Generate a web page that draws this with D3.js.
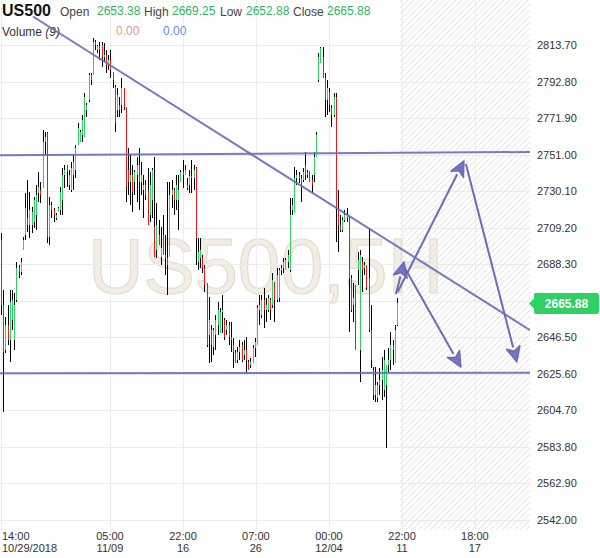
<!DOCTYPE html>
<html><head><meta charset="utf-8">
<script src="https://cdn.jsdelivr.net/npm/d3@7/dist/d3.min.js"></script>
<style>
html,body{margin:0;padding:0;background:#fff;}
svg{display:block;font-family:"Liberation Sans",Arial,sans-serif;}
</style></head><body>
<svg id="c" width="600" height="558"></svg>
<script>
const opens = [2702.1,2664.9,2639.2,2653.5,2644.9,2656.4,2644.9,2667.8,2686.1,2683.8,2696.4,2705.0,2714.7,2710.7,2710.7,2712.4,2716.4,2729.0,2730.7,2731.9,2758.2,2763.3,2703.8,2722.1,2719.3,2714.7,2718.1,2719.3,2725.0,2739.3,2745.0,2733.6,2730.7,2739.3,2742.2,2756.5,2758.2,2762.2,2761.0,2776.5,2782.2,2796.5,2796.5,2815.4,2810.8,2813.1,2813.7,2806.8,2807.9,2802.2,2805.1,2798.2,2789.6,2776.5,2779.3,2779.3,2789.1,2778.2,2742.2,2735.3,2739.3,2735.3,2739.3,2745.0,2735.3,2730.7,2733.6,2730.7,2716.4,2725.0,2709.6,2696.4,2705.0,2692.4,2705.0,2693.5,2691.8,2692.4,2727.9,2730.7,2725.0,2725.0,2735.3,2741.0,2739.3,2733.6,2733.6,2738.7,2737.6,2743.3,2689.5,2691.8,2691.8,2686.1,2677.5,2647.8,2650.6,2640.9,2647.8,2653.5,2648.9,2660.9,2656.4,2650.6,2653.5,2646.6,2642.1,2637.5,2633.5,2638.1,2642.1,2636.3,2639.2,2632.3,2630.6,2631.8,2640.3,2642.1,2662.1,2659.2,2667.8,2662.1,2662.1,2667.8,2664.9,2678.1,2667.8,2668.9,2685.0,2686.1,2685.0,2689.5,2685.0,2719.3,2717.6,2737.6,2739.3,2737.6,2736.4,2745.0,2741.0,2741.6,2736.4,2739.3,2749.6,2793.6,2803.4,2806.8,2794.8,2782.2,2786.8,2777.6,2773.6,2783.9,2719.3,2710.7,2707.8,2713.6,2716.4,2714.7,2680.4,2664.9,2676.4,2685.0,2639.2,2689.5,2686.1,2687.8,2680.4,2650.6,2627.8,2613.5,2611.7,2619.2,2622.0,2616.4,2619.2,2630.6,2633.5,2642.1,2631.8,2653.38];
const highs = [2706.1,2673.5,2658.1,2664.9,2673.5,2673.5,2671.8,2689.5,2687.8,2691.8,2703.8,2729.0,2736.4,2729.6,2721.0,2726.7,2733.6,2741.0,2735.3,2765.0,2763.9,2763.9,2726.7,2723.9,2720.4,2717.6,2721.0,2732.4,2743.3,2745.0,2745.0,2742.2,2746.7,2750.7,2756.5,2769.0,2765.0,2773.6,2786.2,2780.5,2797.6,2797.6,2817.7,2816.5,2813.7,2815.4,2815.4,2814.8,2810.8,2807.9,2810.8,2798.2,2790.8,2789.1,2783.9,2794.8,2789.1,2778.2,2754.7,2750.7,2745.0,2742.2,2749.6,2754.7,2746.7,2739.3,2736.4,2743.3,2741.0,2743.3,2749.6,2723.3,2713.6,2709.6,2716.4,2705.0,2735.3,2735.3,2736.4,2731.9,2739.3,2739.3,2742.2,2747.9,2745.0,2737.6,2742.2,2747.9,2745.0,2743.9,2703.3,2703.3,2693.5,2687.8,2677.5,2669.5,2653.5,2651.8,2659.2,2666.7,2663.2,2670.7,2657.5,2656.4,2655.2,2655.2,2646.1,2639.2,2640.9,2644.9,2643.8,2644.9,2646.6,2633.5,2634.6,2642.1,2646.1,2664.9,2670.7,2670.7,2674.7,2668.9,2670.7,2668.9,2683.2,2678.1,2686.1,2686.1,2687.8,2691.8,2691.8,2696.4,2726.1,2726.1,2743.9,2742.2,2741.0,2739.3,2743.3,2752.5,2742.2,2741.6,2739.3,2752.5,2763.9,2809.1,2812.5,2812.5,2797.6,2793.6,2789.1,2779.3,2786.2,2786.2,2730.7,2716.4,2715.3,2719.3,2720.4,2715.3,2682.1,2677.5,2676.4,2695.3,2696.4,2692.4,2689.5,2687.8,2709.0,2664.9,2629.5,2629.5,2620.9,2628.9,2635.2,2639.2,2630.6,2640.3,2649.5,2644.9,2653.5,2669.25];
const lows = [2659.2,2603.7,2637.5,2642.1,2632.3,2650.6,2639.2,2666.7,2680.4,2682.1,2696.4,2702.1,2706.7,2703.3,2706.1,2709.0,2707.8,2723.9,2723.3,2731.9,2750.7,2700.4,2699.3,2714.7,2712.4,2713.6,2718.1,2716.4,2716.4,2731.9,2732.4,2730.7,2729.6,2730.7,2737.6,2756.5,2758.2,2758.2,2761.0,2772.5,2781.1,2790.8,2796.5,2810.8,2809.1,2805.1,2801.1,2803.9,2797.6,2799.4,2794.8,2789.1,2763.9,2772.5,2772.5,2774.8,2776.5,2723.9,2727.9,2722.1,2718.1,2727.9,2723.9,2719.3,2727.9,2714.7,2725.0,2710.7,2712.4,2714.7,2692.4,2691.8,2699.3,2687.8,2693.5,2682.1,2670.7,2692.4,2720.4,2716.4,2719.3,2707.8,2735.3,2731.9,2739.3,2730.7,2729.0,2729.0,2730.7,2687.8,2685.0,2686.1,2683.2,2672.4,2640.9,2631.8,2632.3,2636.3,2639.2,2647.8,2648.9,2648.9,2644.9,2647.8,2642.1,2638.1,2628.9,2631.8,2631.8,2633.5,2632.3,2633.5,2626.0,2627.8,2628.9,2631.8,2635.2,2642.1,2653.5,2657.5,2651.8,2655.2,2660.9,2656.4,2663.2,2655.2,2666.7,2666.7,2682.1,2683.2,2685.0,2686.1,2683.8,2716.4,2717.6,2733.6,2734.7,2723.9,2735.3,2736.4,2737.6,2735.3,2729.0,2735.3,2749.6,2792.5,2803.4,2794.8,2772.5,2773.6,2775.3,2766.8,2772.5,2701.0,2695.3,2706.7,2706.7,2712.4,2712.4,2649.5,2660.9,2655.2,2639.2,2676.4,2620.9,2672.4,2682.1,2673.5,2649.5,2628.9,2610.6,2609.5,2609.5,2613.5,2610.6,2612.3,2583.1,2626.6,2627.8,2630.6,2631.8,2652.88];
const closes = [2664.9,2638.1,2653.5,2644.9,2666.7,2667.8,2664.9,2686.1,2683.8,2689.5,2702.1,2720.4,2710.7,2719.3,2718.1,2725.0,2727.9,2732.4,2727.9,2758.2,2761.0,2703.8,2722.1,2719.3,2716.4,2716.4,2720.4,2729.6,2739.3,2742.2,2741.0,2739.3,2743.3,2746.7,2754.7,2766.2,2763.9,2770.8,2783.9,2779.3,2796.5,2793.6,2815.4,2813.7,2813.1,2810.8,2806.8,2807.9,2802.2,2805.1,2799.4,2793.6,2769.0,2785.1,2776.5,2789.1,2778.2,2732.4,2735.3,2739.3,2729.6,2741.0,2745.0,2735.3,2739.3,2733.6,2727.9,2710.7,2733.6,2742.2,2692.4,2710.7,2699.3,2697.5,2693.5,2691.8,2687.8,2727.9,2730.7,2725.0,2733.6,2730.7,2741.0,2739.3,2742.2,2731.9,2738.7,2737.6,2742.2,2703.3,2695.3,2696.4,2686.1,2676.4,2642.1,2656.4,2642.1,2650.6,2656.4,2662.1,2660.9,2662.1,2646.6,2653.5,2646.6,2644.9,2638.1,2631.8,2638.1,2640.9,2633.5,2639.2,2633.5,2627.8,2632.3,2640.3,2643.8,2663.2,2664.9,2667.8,2662.1,2664.9,2668.9,2662.1,2679.2,2667.8,2682.1,2685.0,2686.1,2689.5,2690.7,2693.5,2716.4,2722.1,2737.6,2739.3,2737.6,2733.6,2741.0,2739.3,2739.3,2735.3,2733.6,2749.6,2762.2,2806.8,2811.9,2794.8,2782.2,2789.1,2779.3,2773.6,2783.9,2720.4,2710.7,2707.8,2713.6,2716.4,2714.7,2680.4,2662.1,2668.9,2639.2,2690.7,2693.5,2685.0,2687.8,2674.7,2650.6,2633.5,2613.5,2619.2,2619.2,2622.0,2627.8,2633.5,2630.6,2633.5,2642.1,2639.2,2650.6,2665.88];

const yTicks = [2813.70,2792.80,2771.90,2751.00,2730.10,2709.20,2688.30,2667.40,2646.50,2625.60,2604.70,2583.80,2562.90,2542.00];
const xTickIndex = [0,49.8,83.2,116.5,149.9,183.3,216.6];
const xTickTime = ["14:00","05:00","22:00","07:00","00:00","22:00","18:00"];
const xTickDate = ["10/29/2018","11/09","16","26","12/04","11","17"];

const symbol = "US500";
const watermark = "US500,5H";
const ohlcLabels = ["Open","High","Low","Close"];
const ohlcValues = ["2653.38","2669.25","2652.88","2665.88"];
const volumeValues = ["0.00","0.00"];
const lastPrice = 2665.88;

// drawn objects in (candle index, price)
const trendDown = [[14.6,2830.0],[241.8,2650.6]];
const resistance = [[-0.5,2750.6],[241.8,2752.5]];
const support = [[-0.5,2626.0],[241.8,2626.2]];
const arrows = [
  [[180.5,2671.2],[184.2,2689.6]],
  [[181.3,2672.4],[211.6,2747.4]],
  [[184.4,2686.6],[210.2,2629.5]],
  [[212.5,2745.6],[235.8,2632.4]]
];

const W=600,H=558, plotR=530, plotB=530;
const svg=d3.select("#c");
const x=d3.scaleLinear().domain([0,181]).range([1,397]);
const y=d3.scaleLinear().domain([2542.0,2813.7]).range([520,45]);

const defs=svg.append("defs");
const pat=defs.append("pattern").attr("id","hatch").attr("patternUnits","userSpaceOnUse").attr("width",6).attr("height",6);
pat.append("path").attr("d","M-1,1 l2,-2 M0,6 l6,-6 M5,7 l2,-2").attr("stroke","#e3e3e3").attr("stroke-width",1);
defs.append("clipPath").attr("id","plot").append("rect").attr("x",0).attr("y",0).attr("width",plotR).attr("height",plotB);

svg.append("rect").attr("width",W).attr("height",H).attr("fill","#fff");

// watermark
svg.append("text").attr("x",88).attr("y",293).attr("font-size",77)
  .attr("fill","#f2eee5").attr("stroke","#e4ddce").attr("stroke-width",1.2)
  .text(watermark);

// future hatch
const lastX = x(opens.length-1);
svg.append("rect").attr("x",lastX+3).attr("y",0).attr("width",plotR-lastX-3).attr("height",plotB).attr("fill","url(#hatch)");

// grid
const g=svg.append("g");
g.selectAll("line.h").data(yTicks).join("line")
  .attr("x1",0).attr("x2",plotR).attr("y1",d=>Math.round(y(d))+0.5).attr("y2",d=>Math.round(y(d))+0.5)
  .attr("stroke","#ececec");
g.selectAll("line.v").data(xTickIndex).join("line")
  .attr("x1",d=>Math.round(x(d))+0.5).attr("x2",d=>Math.round(x(d))+0.5).attr("y1",0).attr("y2",plotB)
  .attr("stroke","#ececec");

// y labels (the one under the last-price tag is hidden, as in the original)
const ly=y(lastPrice);
svg.append("g").selectAll("text").data(yTicks.filter(d=>Math.abs(y(d)-ly)>14)).join("text")
  .attr("x",537).attr("y",d=>y(d)+4).attr("font-size",11).attr("fill","#333")
  .text(d=>d.toFixed(2));

// x labels
const xl=svg.append("g").attr("font-size",11).attr("fill","#333");
xTickIndex.forEach((d,i)=>{
  const anchor = i===0?"start":"middle";
  const px = i===0?2:x(d);
  xl.append("text").attr("x",px).attr("y",540).attr("text-anchor",anchor).text(xTickTime[i]);
  xl.append("text").attr("x",px).attr("y",552).attr("text-anchor",anchor).text(xTickDate[i]);
});

// candles
const cg=svg.append("g").attr("clip-path","url(#plot)").attr("shape-rendering","crispEdges");
const idx=d3.range(opens.length);
const cx=i=>Math.round(x(i));
cg.selectAll("rect.w").data(idx).join("rect")
  .attr("x",i=>cx(i)).attr("width",1)
  .attr("y",i=>y(highs[i])).attr("height",i=>Math.max(1,y(lows[i])-y(highs[i])))
  .attr("fill","#000");
cg.selectAll("rect.b").data(idx).join("rect")
  .attr("x",i=>cx(i)).attr("width",1)
  .attr("y",i=>Math.min(y(opens[i]),y(closes[i])))
  .attr("height",i=>Math.max(0.5,Math.abs(y(opens[i])-y(closes[i]))))
  .attr("fill",i=>closes[i]>=opens[i]?"#2ed35f":"#f0141c");

// header
const hd=svg.append("g");
hd.append("text").attr("x",2).attr("y",16).attr("font-size",16).attr("font-weight","bold").attr("fill","#111").text(symbol);
const lx=[60,144,220,293], vx=[97,172,246,327];
ohlcLabels.forEach((l,i)=>{
  hd.append("text").attr("x",lx[i]).attr("y",16).attr("font-size",12).attr("fill","#444").text(l);
  hd.append("text").attr("x",vx[i]).attr("y",15).attr("font-size",12).attr("fill","#2fb55c").text(ohlcValues[i]);
});
const vt=hd.append("text").attr("x",2).attr("y",36).attr("font-size",12).attr("fill","#333");
vt.append("tspan").text("Volume ");
vt.append("tspan").attr("font-style","italic").text("(9)");
hd.append("text").attr("x",116).attr("y",35).attr("font-size",12).attr("fill","#eb958b").text(volumeValues[0]);
hd.append("text").attr("x",163).attr("y",35).attr("font-size",12).attr("fill","#5e8fe6").text(volumeValues[1]);

// lines
const lc="#6b6bb8";
const lg=svg.append("g").attr("clip-path","url(#plot)");
[trendDown,resistance,support].forEach(seg=>{
  lg.append("line").attr("x1",x(seg[0][0])).attr("y1",y(seg[0][1])).attr("x2",x(seg[1][0])).attr("y2",y(seg[1][1]))
    .attr("stroke",lc).attr("stroke-width",2).attr("stroke-opacity",0.9);
});
arrows.forEach(a=>{
  const x1=x(a[0][0]),y1=y(a[0][1]),x2=x(a[1][0]),y2=y(a[1][1]);
  const ang=Math.atan2(y2-y1,x2-x1);
  const L=15, Wd=7;
  const bx=x2-L*Math.cos(ang), by=y2-L*Math.sin(ang);
  lg.append("line").attr("x1",x1).attr("y1",y1).attr("x2",bx).attr("y2",by)
    .attr("stroke",lc).attr("stroke-width",2);
  const p1=[bx+Wd*Math.sin(ang), by-Wd*Math.cos(ang)];
  const p2=[bx-Wd*Math.sin(ang), by+Wd*Math.cos(ang)];
  const nx=bx+4*Math.cos(ang), ny=by+4*Math.sin(ang);
  lg.append("path").attr("d",`M${x2},${y2}L${p1}L${nx},${ny}L${p2}Z`)
    .attr("fill","#7474c0").attr("stroke",lc).attr("stroke-width",1.5).attr("stroke-linejoin","round");
});

// last price label
svg.append("path").attr("d",`M529,${ly} L534,${ly-5} L534,${ly-9.5} Q534,${ly-10.5} 536,${ly-10.5} L597,${ly-10.5} Q599,${ly-10.5} 599,${ly-8.5} L599,${ly+8.5} Q599,${ly+10.5} 597,${ly+10.5} L536,${ly+10.5} Q534,${ly+10.5} 534,${ly+8.5} L534,${ly+5} Z`)
  .attr("fill","#2fd065");
svg.append("text").attr("x",566.5).attr("y",ly+4.5).attr("text-anchor","middle").attr("font-size",12).attr("font-weight","bold").attr("fill","#fff").text(lastPrice.toFixed(2));
</script>
</body></html>
